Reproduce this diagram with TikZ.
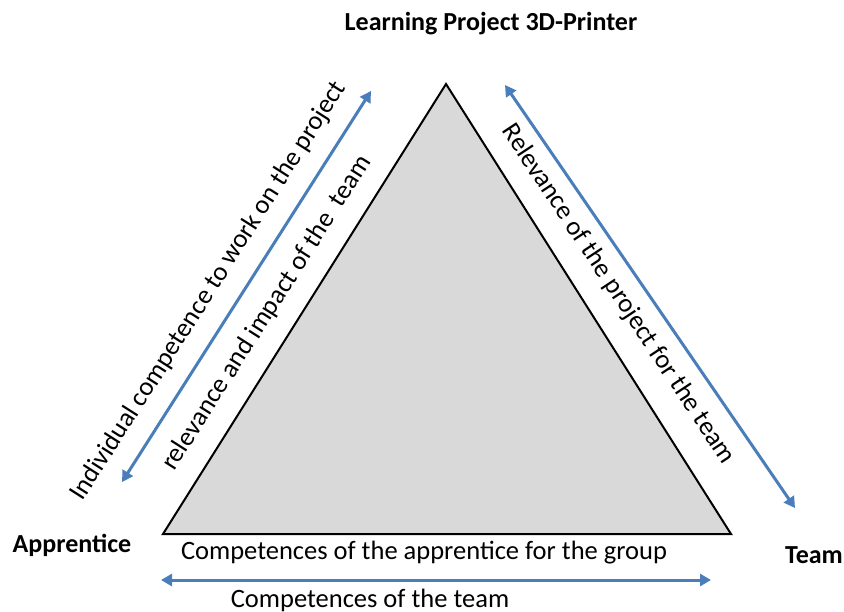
\documentclass[tikz,border=0pt]{standalone}
\usepackage{fontspec}
\setmainfont{Carlito}
\usetikzlibrary{arrows.meta}
\definecolor{arrowblue}{HTML}{4A7EBB}
\definecolor{trigray}{HTML}{D9D9D9}
\begin{document}
\begin{tikzpicture}[x=1pt,y=-1pt,
    link/.style={arrowblue,line width=3pt,
      {Triangle[length=11pt,width=12pt]}-{Triangle[length=11pt,width=12pt]}},
    lbl/.style={font=\fontsize{26.5}{30}\selectfont,inner sep=0pt},
    corner/.style={font=\fontsize{26}{30}\selectfont\bfseries,inner sep=0pt}]
    \useasboundingbox (0,0) rectangle (844,611);
    % triangle
    \coordinate (top) at (446,84);
    \coordinate (left) at (163,534);
    \coordinate (right) at (731,534);
    \draw[fill=trigray,line width=2pt] (top) -- (left) -- (right) -- cycle;

    % arrows
    \coordinate (la) at (122,482);
    \coordinate (lb) at (371,91);
    \coordinate (ra) at (505,85);
    \coordinate (rb) at (795,508);
    \coordinate (ba) at (161,580);
    \coordinate (bb) at (711,580);
    \draw[link] (la) -- (lb);
    \draw[link] (ra) -- (rb);
    \draw[link] (ba) -- (bb);

    % labels
    \node[corner] (project) at (491,24) {Learning Project 3D-Printer};
    \node[corner] (apprentice) at (72,545) {Apprentice};
    \node[corner] (team) at (814,555) {Team};
    \node[lbl,rotate=57.5] (indiv) at (209,291) {Individual competence to work on the project};
    \node[lbl,rotate=57.5] (relimp) at (267,313) {relevance and impact of the\ \ team};
    \node[lbl,rotate=-56.5] (relproj) at (618,294) {Relevance of the project for the team};
    \node[lbl] (appgroup) at (424,553) {Competences of the apprentice for the group};
    \node[lbl] (compteam) at (370,600) {Competences of the team};
\end{tikzpicture}
\end{document}
